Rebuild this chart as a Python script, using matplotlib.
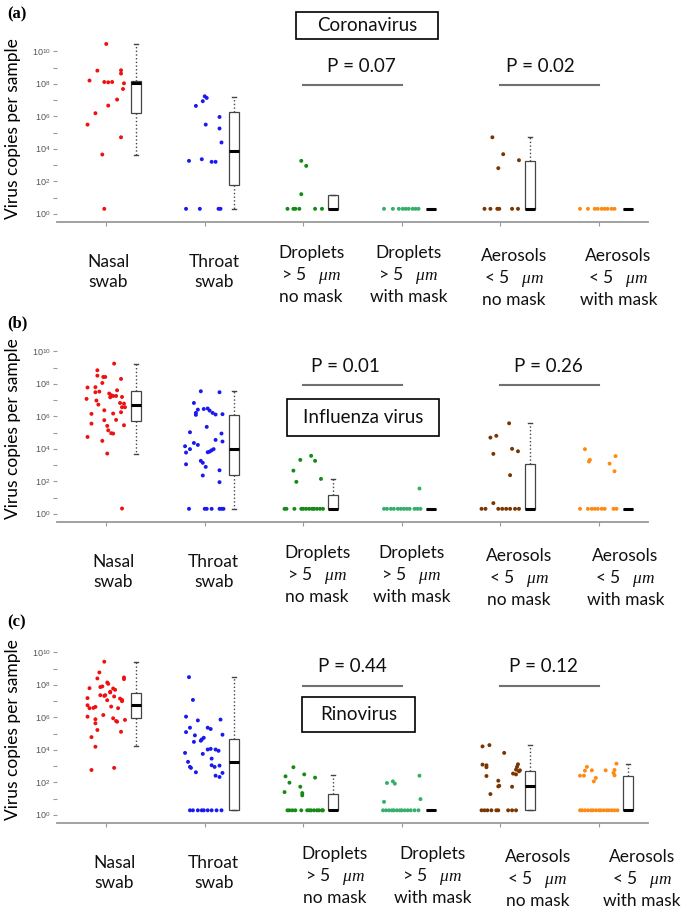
import matplotlib
matplotlib.use("Agg")
import matplotlib.pyplot as plt
import matplotlib.transforms as mtransforms
from matplotlib.patches import Rectangle
from matplotlib.ticker import NullLocator
import numpy as np

plt.rcParams["font.family"] = ["Lato", "DejaVu Sans"]
plt.rcParams["mathtext.fontset"] = "custom"
plt.rcParams["mathtext.rm"] = "Liberation Sans"
plt.rcParams["mathtext.it"] = "Liberation Serif:italic"

# ---- data (log10 virus copies; x = jitter offset from category) ----
CATEGORIES = [
    "Nasal\nswab",
    "Throat\nswab",
    "Droplets\n> 5   $\\mu m$\nno mask",
    "Droplets\n> 5   $\\mu m$\nwith mask",
    "Aerosols\n< 5   $\\mu m$\nno mask",
    "Aerosols\n< 5   $\\mu m$\nwith mask",
]
COLORS = ["#ee1111", "#1a1aee", "#158a15", "#35b06c", "#7a3500", "#ff8a12"]
VIRUS_NAMES = ["Coronavirus", "Influenza virus", "Rinovirus"]
PANEL_LABELS = ["(a)", "(b)", "(c)"]
P_VALUES_A = ["P = 0.07", "P = 0.02"]
P_VALUES_B = ["P = 0.01", "P = 0.26"]
P_VALUES_C = ["P = 0.44", "P = 0.12"]

# panel (a) Coronavirus
A_NASAL_X = [0.00, -0.09, 0.15, 0.15, -0.17, -0.02, 0.02, 0.06, 0.18, 0.17, 0.11, 0.02, -0.11, -0.19, 0.15, -0.04, -0.02]
A_NASAL_Y = [10.45, 8.81, 8.83, 8.63, 8.20, 8.11, 8.09, 8.11, 8.03, 7.68, 7.03, 6.66, 6.19, 5.49, 4.71, 3.65, 0.31]
A_THROAT_X = [0.00, 0.02, -0.02, -0.09, 0.15, 0.01, 0.15, 0.17, -0.16, -0.03, 0.07, 0.11, -0.19, -0.05, 0.14, 0.16]
A_THROAT_Y = [7.23, 7.13, 6.93, 6.64, 5.96, 5.49, 5.25, 4.39, 3.26, 3.36, 3.20, 3.20, 0.31, 0.31, 0.31, 0.31]
A_DROP_X = [-0.02, 0.03, -0.02, -0.16, -0.10, -0.08, -0.04, 0.12, 0.19]
A_DROP_Y = [3.26, 2.95, 1.21, 0.31, 0.31, 0.31, 0.31, 0.31, 0.31]
A_DROPM_X = [-0.18, -0.09, -0.03, 0.01, 0.04, 0.07, 0.11, 0.14, 0.17]
A_DROPM_Y = [0.31, 0.31, 0.31, 0.31, 0.31, 0.31, 0.31, 0.31, 0.31]
A_AER_X = [-0.08, 0.03, 0.19, -0.02, -0.16, -0.10, -0.03, -0.01, 0.12, 0.18]
A_AER_Y = [4.71, 3.67, 3.30, 2.81, 0.31, 0.31, 0.31, 0.31, 0.31, 0.31]
A_AERM_X = [-0.19, -0.11, -0.04, -0.01, 0.03, 0.06, 0.09, 0.13, 0.16]
A_AERM_Y = [0.31, 0.31, 0.31, 0.31, 0.31, 0.31, 0.31, 0.31, 0.31]
# box stats: whislo, q1, median, q3, whishi (log10)
A_BOXES = [
    [3.65, 6.19, 8.03, 8.20, 10.45],
    [0.31, 1.76, 3.85, 6.25, 7.17],
    [0.31, 0.31, 0.31, 1.19, 1.19],
    [0.31, 0.31, 0.31, 0.31, 0.31],
    [0.31, 0.31, 0.31, 3.28, 4.71],
    [0.31, 0.31, 0.31, 0.31, 0.31],
]

# panel (b) Influenza virus
B_NASAL_X = [0.08, -0.09, -0.09, -0.03, -0.01, -0.04, 0.15, -0.19, -0.11, -0.11, -0.07, 0.11, 0.03, 0.05,
             0.04, 0.07, 0.10, 0.16, -0.20, -0.10, -0.08, 0.18, 0.14, 0.16, 0.19, 0.15, -0.02, 0.10,
             -0.15, 0.07, -0.15, -0.02, 0.01, 0.18, 0.02, 0.05, 0.07, -0.19, -0.04, 0.01, 0.16]
B_NASAL_Y = [9.24, 8.83, 8.50, 8.42, 8.42, 8.05, 8.30, 7.77, 7.79, 7.48, 7.52, 7.60, 7.40, 7.30,
             7.17, 7.25, 7.25, 7.19, 7.07, 6.97, 6.72, 6.78, 6.82, 6.56, 6.56, 6.25, 6.37, 5.78,
             6.15, 6.17, 5.55, 5.76, 5.41, 5.45, 5.14, 4.96, 4.94, 4.73, 4.49, 3.71, 0.33]
B_THROAT_X = [0.15, -0.04, -0.11, -0.01, -0.07, -0.09, -0.09, 0.03, 0.05, 0.08, 0.11, 0.18, 0.02, -0.15,
              0.17, 0.11, -0.11, -0.07, 0.18, -0.20, -0.15, -0.19, 0.09, 0.07, 0.05, 0.03, -0.04, -0.02,
              0.01, -0.19, 0.15, -0.02, 0.15, -0.16, 0.00, 0.02, 0.07, 0.15, 0.17, 0.19]
B_THROAT_Y = [7.48, 7.54, 6.82, 6.45, 6.41, 6.21, 6.09, 6.48, 6.35, 6.21, 6.11, 6.13, 5.35, 5.02,
              4.94, 4.55, 4.36, 4.24, 4.45, 4.16, 3.98, 3.77, 3.98, 3.91, 3.83, 3.79, 3.26, 3.14,
              2.89, 3.05, 2.68, 2.36, 1.95, 0.31, 0.31, 0.31, 0.31, 0.31, 0.31, 0.31]
B_DROP_X = [0.08, -0.03, 0.12, -0.10, -0.07, 0.18, -0.19, -0.17, -0.09, -0.02, 0.00, 0.03, 0.06, 0.09,
            0.11, 0.14, 0.17, 0.20]
B_DROP_Y = [3.57, 3.32, 3.26, 2.66, 1.97, 2.15, 0.31, 0.31, 0.31, 0.31, 0.31, 0.31, 0.31, 0.31,
            0.31, 0.31, 0.31, 0.31]
B_DROPM_X = [0.18, -0.18, -0.15, -0.11, -0.08, -0.04, -0.01, 0.02, 0.05, 0.08, 0.13, 0.16, 0.19]
B_DROPM_Y = [1.56, 0.31, 0.31, 0.31, 0.31, 0.31, 0.31, 0.31, 0.31, 0.31, 0.31, 0.31, 0.31]
B_AER_X = [0.09, -0.10, -0.04, -0.07, 0.12, 0.18, 0.10, -0.07, -0.19, -0.15, -0.02, 0.02, 0.06, 0.10,
           0.15, 0.19]
B_AER_Y = [5.57, 4.69, 4.80, 3.69, 4.00, 3.85, 2.38, 0.66, 0.31, 0.31, 0.31, 0.31, 0.31, 0.31,
           0.31, 0.31]
B_AERM_X = [-0.14, -0.09, -0.10, 0.17, 0.11, 0.16, -0.19, -0.11, -0.07, -0.04, -0.01, 0.03, 0.06, 0.15,
            0.18]
B_AERM_Y = [3.98, 3.32, 3.22, 3.55, 3.09, 2.62, 0.31, 0.31, 0.31, 0.31, 0.31, 0.31, 0.31, 0.31,
            0.31]
B_BOXES = [
    [3.71, 5.74, 6.72, 7.54, 9.22],
    [0.31, 2.38, 4.00, 6.05, 7.58],
    [0.31, 0.31, 0.31, 1.15, 2.15],
    [0.31, 0.31, 0.31, 0.31, 0.31],
    [0.31, 0.31, 0.31, 3.05, 5.57],
    [0.31, 0.31, 0.31, 0.31, 0.31],
]

# panel (c) Rinovirus
C_NASAL_X = [-0.02, -0.07, -0.09, 0.18, 0.18, 0.01, -0.17, -0.04, -0.06, 0.02, 0.07, 0.09, 0.04, 0.04,
             -0.06, -0.02, -0.01, 0.08, 0.01, -0.19, 0.14, 0.16, 0.16, -0.19, -0.17, -0.13, -0.11, 0.05,
             -0.03, 0.12, -0.19, -0.11, -0.11, 0.07, 0.10, 0.11, 0.19, -0.09, 0.15, -0.15, -0.11, -0.15,
             0.08]
C_NASAL_Y = [9.42, 8.76, 8.39, 8.45, 8.35, 8.14, 7.79, 7.90, 7.86, 8.06, 7.77, 7.69, 7.57, 7.53,
             7.36, 7.32, 7.36, 7.28, 7.05, 7.18, 7.15, 7.07, 6.99, 6.74, 6.56, 6.58, 6.64, 6.66,
             6.14, 6.56, 6.04, 5.88, 5.63, 5.94, 5.77, 5.73, 5.84, 5.22, 5.11, 4.78, 4.19, 2.76,
             2.89]
C_THROAT_X = [-0.16, -0.12, -0.19, -0.07, 0.16, -0.15, 0.03, 0.06, -0.19, -0.10, -0.03, -0.01, -0.04, 0.18,
              -0.11, 0.03, 0.11, 0.14, 0.06, -0.02, 0.07, -0.20, -0.17, -0.15, -0.14, -0.09, 0.07, 0.10,
              0.15, 0.11, 0.15, 0.18, -0.15, -0.12, -0.07, -0.03, -0.01, 0.03, 0.07, 0.12, 0.17]
C_THROAT_Y = [8.47, 7.07, 6.04, 5.81, 5.86, 5.36, 5.36, 5.28, 5.09, 4.89, 4.64, 4.74, 4.56, 4.93,
              4.49, 4.02, 4.02, 3.94, 4.06, 3.75, 3.46, 3.81, 3.26, 2.95, 2.89, 2.62, 3.05, 2.95,
              3.03, 2.41, 2.33, 2.58, 0.28, 0.28, 0.28, 0.28, 0.28, 0.28, 0.28, 0.28, 0.28]
C_DROP_X = [-0.10, -0.18, 0.01, 0.12, -0.14, -0.03, -0.19, -0.01, -0.01, -0.16, -0.14, -0.11, -0.08, -0.02,
            0.04, 0.06, 0.08, 0.11, 0.14, 0.16, 0.19, 0.20]
C_DROP_Y = [2.93, 2.37, 2.49, 2.29, 1.98, 1.73, 1.40, 1.34, 1.20, 0.28, 0.28, 0.28, 0.28, 0.28,
            0.28, 0.28, 0.28, 0.28, 0.28, 0.28, 0.28, 0.28]
C_DROPM_X = [-0.15, -0.09, -0.07, 0.18, -0.18, 0.19, -0.19, -0.16, -0.13, -0.10, -0.08, -0.05, -0.02, 0.00,
             0.03, 0.06, 0.09, 0.13, 0.17]
C_DROPM_Y = [1.96, 2.06, 1.92, 2.41, 0.80, 0.97, 0.28, 0.28, 0.28, 0.28, 0.28, 0.28, 0.28, 0.28,
             0.28, 0.28, 0.28, 0.28, 0.28]
C_AER_X = [-0.18, -0.11, 0.04, -0.18, -0.14, -0.14, 0.18, 0.17, 0.16, 0.13, 0.16, 0.19, 0.20, -0.14,
           -0.02, -0.01, -0.02, 0.12, -0.10, -0.19, -0.16, -0.13, -0.09, -0.04, -0.02, 0.08, 0.12, 0.16]
C_AER_Y = [4.21, 4.29, 3.81, 3.09, 3.05, 2.93, 3.11, 2.95, 2.78, 2.54, 2.49, 2.68, 2.74, 2.39,
           2.10, 1.79, 1.75, 1.73, 1.28, 0.28, 0.28, 0.28, 0.28, 0.28, 0.28, 0.28, 0.28, 0.28]
C_AERM_X = [-0.12, -0.07, -0.14, -0.15, -0.19, -0.03, -0.05, 0.07, 0.18, 0.16, 0.15, 0.16, -0.19, -0.17,
            -0.14, -0.11, -0.08, -0.06, -0.03, 0.00, 0.02, 0.05, 0.08, 0.10, 0.13, 0.16, 0.19]
C_AERM_Y = [2.95, 2.74, 2.72, 2.41, 2.41, 2.27, 2.06, 2.74, 3.15, 2.76, 2.58, 2.43, 0.28, 0.28,
            0.28, 0.28, 0.28, 0.28, 0.28, 0.28, 0.28, 0.28, 0.28, 0.28, 0.28, 0.28, 0.28]
C_BOXES = [
    [4.23, 5.94, 6.74, 7.51, 9.42],
    [0.28, 0.28, 3.28, 4.64, 8.47],
    [0.28, 0.28, 0.28, 1.30, 2.47],
    [0.28, 0.28, 0.28, 0.28, 0.28],
    [0.28, 0.28, 1.75, 2.72, 4.27],
    [0.28, 0.28, 0.28, 2.41, 3.15],
]

# ---- layout (pixels of the 685 x 909 figure) ----
W, H = 685, 909
AX_LEFT, AX_RIGHT = 57, 648
AX_HEIGHT = 187                      # 11.5 decades
AXIS_LINE_Y = [222, 522, 823]        # y of the x-axis line, from the top
PANEL_LABEL_Y = [14, 323, 622]
VIRUS_BOX_X = [(1.93, 3.37), (1.83, 3.38), (1.99, 3.13)]
VIRUS_BOX_Y = [(183, 210), (86, 123), (91, 126)]   # px above axis line
P_TEXT_X = [(2.59, 4.41), (2.43, 4.49), (2.50, 4.44)]
LABEL_DX = [[0.02, 0.10, 0.08, 0.07, 0.14, 0.20],
            [0.07, 0.09, 0.14, 0.10, 0.19, 0.27],
            [0.08, 0.09, 0.32, 0.31, 0.38, 0.44]]
LABEL_DY = [50, 50, 53, 53, 56, 56]  # px below axis line


def px_frac(px):
    return px / AX_HEIGHT


def draw_panel(fig, k, groups, boxes, pvals):
    line_y = AXIS_LINE_Y[k]
    ax = fig.add_axes([AX_LEFT / W, (H - line_y) / H, (AX_RIGHT - AX_LEFT) / W, AX_HEIGHT / H])
    ax.set_yscale("log")
    ax.set_xlim(-0.5, 5.5)
    ax.set_ylim(10 ** -0.5, 10 ** 11)
    for side in ["left", "top", "right"]:
        ax.spines[side].set_visible(False)
    ax.spines["bottom"].set_color("#9a9a9a")
    ax.spines["bottom"].set_linewidth(1.3)

    ax.set_yticks([10.0 ** e for e in range(11)])
    ax.set_yticklabels([f"$10^{{{e}}}$" if e % 2 == 0 else "" for e in range(11)])
    ax.yaxis.set_minor_locator(NullLocator())
    ax.tick_params(axis="y", length=3, color="#999999", labelsize=6.5, labelcolor="#555555", pad=1.5)
    ax.set_xticks(range(6))
    ax.set_xticklabels([])
    ax.tick_params(axis="x", length=3, color="#999999")

    for i, (xs, ys) in enumerate(groups):
        ax.scatter(i + np.array(xs), 10.0 ** np.array(ys), s=8, color=COLORS[i],
                   edgecolors="none", zorder=3, clip_on=False)

    stats = [dict(whislo=10 ** b[0], q1=10 ** b[1], med=10 ** b[2], q3=10 ** b[3], whishi=10 ** b[4])
             for b in boxes]
    ax.bxp(stats, positions=[i + 0.3 for i in range(6)], widths=0.1, capwidths=0.04,
           showfliers=False, patch_artist=True, manage_ticks=False,
           boxprops=dict(facecolor="white", edgecolor="#444444", linewidth=0.9),
           medianprops=dict(color="black", linewidth=2.2),
           whiskerprops=dict(color="#444444", linestyle=":", linewidth=1.0),
           capprops=dict(color="#444444", linewidth=1.0))

    trans = mtransforms.blended_transform_factory(ax.transData, ax.transAxes)

    # p-value brackets
    for j, (x0, x1) in enumerate([(2, 3), (4, 5)]):
        ax.plot([x0, x1], [px_frac(137)] * 2, transform=trans, color="#707070", lw=1.5, clip_on=False)
        ax.text(P_TEXT_X[k][j], px_frac(156), pvals[j], transform=trans, ha="center", va="center",
                fontsize=13.5, color="#111111")

    # virus name box
    bx0, bx1 = VIRUS_BOX_X[k]
    by0, by1 = VIRUS_BOX_Y[k]
    ax.add_patch(Rectangle((bx0, px_frac(by0)), bx1 - bx0, px_frac(by1 - by0), transform=trans,
                           fill=False, edgecolor="black", linewidth=1.2, clip_on=False))
    ax.text((bx0 + bx1) / 2, px_frac((by0 + by1) / 2), VIRUS_NAMES[k], transform=trans,
            ha="center", va="center", fontsize=13.5, color="#111111")

    # category labels
    for i, label in enumerate(CATEGORIES):
        ax.annotate(label, xy=(i + LABEL_DX[k][i], 0), xycoords=trans,
                    xytext=(0, -LABEL_DY[i] * 0.72), textcoords="offset points",
                    ha="center", va="center", fontsize=12.5, linespacing=1.25, color="#111111")

    fig.text(13 / W, (H - (line_y - 93)) / H, "Virus copies per sample", rotation=90,
             ha="center", va="center", fontsize=12.5)
    fig.text(7 / W, (H - PANEL_LABEL_Y[k]) / H, PANEL_LABELS[k], ha="left", va="center",
             fontsize=12, fontweight="bold", family="Liberation Serif")


fig = plt.figure(figsize=(W / 100, H / 100), dpi=100)

draw_panel(fig, 0,
           [(A_NASAL_X, A_NASAL_Y), (A_THROAT_X, A_THROAT_Y), (A_DROP_X, A_DROP_Y),
            (A_DROPM_X, A_DROPM_Y), (A_AER_X, A_AER_Y), (A_AERM_X, A_AERM_Y)],
           A_BOXES, P_VALUES_A)
draw_panel(fig, 1,
           [(B_NASAL_X, B_NASAL_Y), (B_THROAT_X, B_THROAT_Y), (B_DROP_X, B_DROP_Y),
            (B_DROPM_X, B_DROPM_Y), (B_AER_X, B_AER_Y), (B_AERM_X, B_AERM_Y)],
           B_BOXES, P_VALUES_B)
draw_panel(fig, 2,
           [(C_NASAL_X, C_NASAL_Y), (C_THROAT_X, C_THROAT_Y), (C_DROP_X, C_DROP_Y),
            (C_DROPM_X, C_DROPM_Y), (C_AER_X, C_AER_Y), (C_AERM_X, C_AERM_Y)],
           C_BOXES, P_VALUES_C)

fig.savefig("out.png", dpi=100)
